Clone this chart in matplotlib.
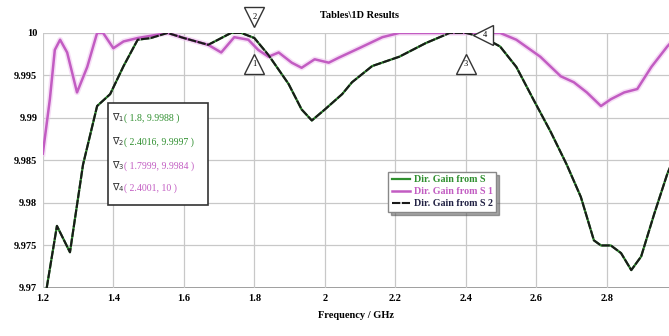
import matplotlib
matplotlib.use('Agg')
import matplotlib.pyplot as plt
from matplotlib.patches import Rectangle

plt.rcParams['font.family'] = ['Liberation Serif', 'DejaVu Serif']

# values (GHz, gain)
freq_s2 = [1.211, 1.24, 1.277, 1.314, 1.354, 1.391, 1.429, 1.469, 1.506,
           1.554, 1.6, 1.669, 1.697, 1.734, 1.763, 1.8, 1.84, 1.897, 1.934,
           1.963, 2.0, 2.049, 2.077, 2.134, 2.211, 2.286, 2.354, 2.4, 2.449,
           2.497, 2.543, 2.591, 2.64, 2.686, 2.726, 2.763, 2.783, 2.811,
           2.84, 2.869, 2.897, 2.934, 2.971, 2.989]
gain_s2 = [9.970, 9.9773, 9.9742, 9.9845, 9.9914, 9.9928, 9.9961, 9.9992,
           9.9994, 10.0, 9.9994, 9.9986, 9.9992, 10.0, 10.0, 9.9994, 9.9974,
           9.994, 9.991, 9.9897, 9.991, 9.9928, 9.9942, 9.9961, 9.9972,
           9.9988, 10.0, 10.0, 9.9995, 9.9984, 9.996, 9.9922, 9.9884, 9.9845,
           9.9807, 9.9756, 9.975, 9.975, 9.9741, 9.9721, 9.9737, 9.9787,
           9.9834, 9.9852]

freq_s1 = [1.2, 1.22, 1.234, 1.249, 1.269, 1.297, 1.326, 1.354, 1.371, 1.4,
           1.429, 1.469, 1.554, 1.6, 1.669, 1.706, 1.743, 1.783, 1.811, 1.84,
           1.869, 1.906, 1.934, 1.971, 2.011, 2.04, 2.097, 2.163, 2.211,
           2.354, 2.497, 2.543, 2.611, 2.669, 2.706, 2.743, 2.783, 2.811,
           2.849, 2.886, 2.926, 2.971, 2.989]
gain_s1 = [9.9858, 9.9922, 9.998, 9.9992, 9.9977, 9.993, 9.996, 10.0, 10.0,
           9.9982, 9.999, 9.9994, 10.0, 9.9994, 9.9986, 9.9977, 9.9995,
           9.9992, 9.998, 9.9972, 9.9977, 9.9965, 9.9959, 9.9969, 9.9965,
           9.9971, 9.9982, 9.9995, 10.0, 10.0, 10.0, 9.9992, 9.9972, 9.9949,
           9.9942, 9.993, 9.9914, 9.9922, 9.993, 9.9934, 9.996, 9.9984,
           9.9992]

xticks = [1.2, 1.4, 1.6, 1.8, 2.0, 2.2, 2.4, 2.6, 2.8]
xtick_labels = ['1.2', '1.4', '1.6', '1.8', '2', '2.2', '2.4', '2.6', '2.8']
yticks = [9.97, 9.975, 9.98, 9.985, 9.99, 9.995, 10.0]
ytick_labels = ['9.97', '9.975', '9.98', '9.985', '9.99', '9.995', '10']

marker_lines = ['( 1.8, 9.9988 )', '( 2.4016, 9.9997 )',
                '( 1.7999, 9.9984 )', '( 2.4001, 10 )']
legend_labels = ['Dir. Gain from S', 'Dir. Gain from S 1', 'Dir. Gain from S 2']

green = '#2f8f2f'
magenta = '#c25cc2'

fig = plt.figure(figsize=(6.69, 3.36), dpi=100)
ax = fig.add_axes([0.064, 0.143, 0.936, 0.759])

ax.plot(freq_s2, gain_s2, color=green, lw=1.6, label=legend_labels[0])
ax.plot(freq_s1, gain_s1, color='#f0c8f0', lw=4.0, alpha=0.6)
ax.plot(freq_s1, gain_s1, color=magenta, lw=1.8, label=legend_labels[1])
ax.plot(freq_s2, gain_s2, color='#1a1a1a', lw=1.5, ls=(0, (4, 0.7)),
        label=legend_labels[2])

ax.set_xlim(1.2, 2.976)
ax.set_ylim(9.97, 10.0)
ax.set_xticks(xticks)
ax.set_xticklabels(xtick_labels)
ax.set_yticks(yticks)
ax.set_yticklabels(ytick_labels)
ax.tick_params(length=0, labelsize=7.5, pad=4)
for lab in ax.get_xticklabels() + ax.get_yticklabels():
    lab.set_fontweight('bold')
ax.grid(True, color='#c8c8c8', lw=0.9)
for s in ax.spines.values():
    s.set_visible(False)
ax.axhline(10.0, color='#9a9a9a', lw=1.4, zorder=0.5)
ax.axhline(9.97, color='#9a9a9a', lw=1.4, zorder=0.5)

ax.set_xlabel('Frequency / GHz', fontsize=7.5, fontweight='bold', labelpad=6)
fig.text(0.538, 0.955, 'Tables\\1D Results', fontsize=7.5,
         fontweight='bold', ha='center', va='center')

# curve markers (triangles with numbers)
tri = [(1.8, 10.0019, 'v', '2'), (1.8, 9.9963, '^', '1'),
       (2.4, 9.9963, '^', '3'), (2.449, 9.9998, '<', '4')]
for mx, my, shape, num in tri:
    ax.plot([mx], [my], marker=shape, ms=15, mfc='white', mec='#333333',
            mew=1.0, clip_on=False, zorder=5)
    ax.text(mx + (0.004 if shape == '<' else 0), my, num, fontsize=6,
            ha='center', va='center', zorder=6, clip_on=False)

# marker value box
box = Rectangle((108 / 669, 1 - 205 / 336), 100 / 669, 102 / 336,
                transform=fig.transFigure, fc='white', ec='#333333', lw=1.2,
                zorder=7)
fig.patches.append(box)
line_y = [118, 142, 166, 188]
line_col = [green, green, magenta, magenta]
for i, (txt, yy, col) in enumerate(zip(marker_lines, line_y, line_col)):
    fig.text(112 / 669, 1 - yy / 336, r'$\nabla_{%d}$' % (i + 1),
             fontsize=7, color='#333333', ha='left', va='center', zorder=8)
    fig.text(124 / 669, 1 - yy / 336, txt, fontsize=7, color=col,
             ha='left', va='center', zorder=8)

leg = ax.legend(loc='upper left', bbox_to_anchor=(383 / 669, 1 - 167 / 336),
                bbox_transform=fig.transFigure, fontsize=7.2,
                frameon=True, fancybox=False, shadow=True, handlelength=1.8,
                handletextpad=0.4, borderpad=0.35, labelspacing=0.3,
                edgecolor='#888888')
for t, col in zip(leg.get_texts(), [green, magenta, '#222244']):
    t.set_color(col)
    t.set_fontweight('bold')
leg.get_frame().set_linewidth(1.0)

fig.savefig('out.png', dpi=100)
